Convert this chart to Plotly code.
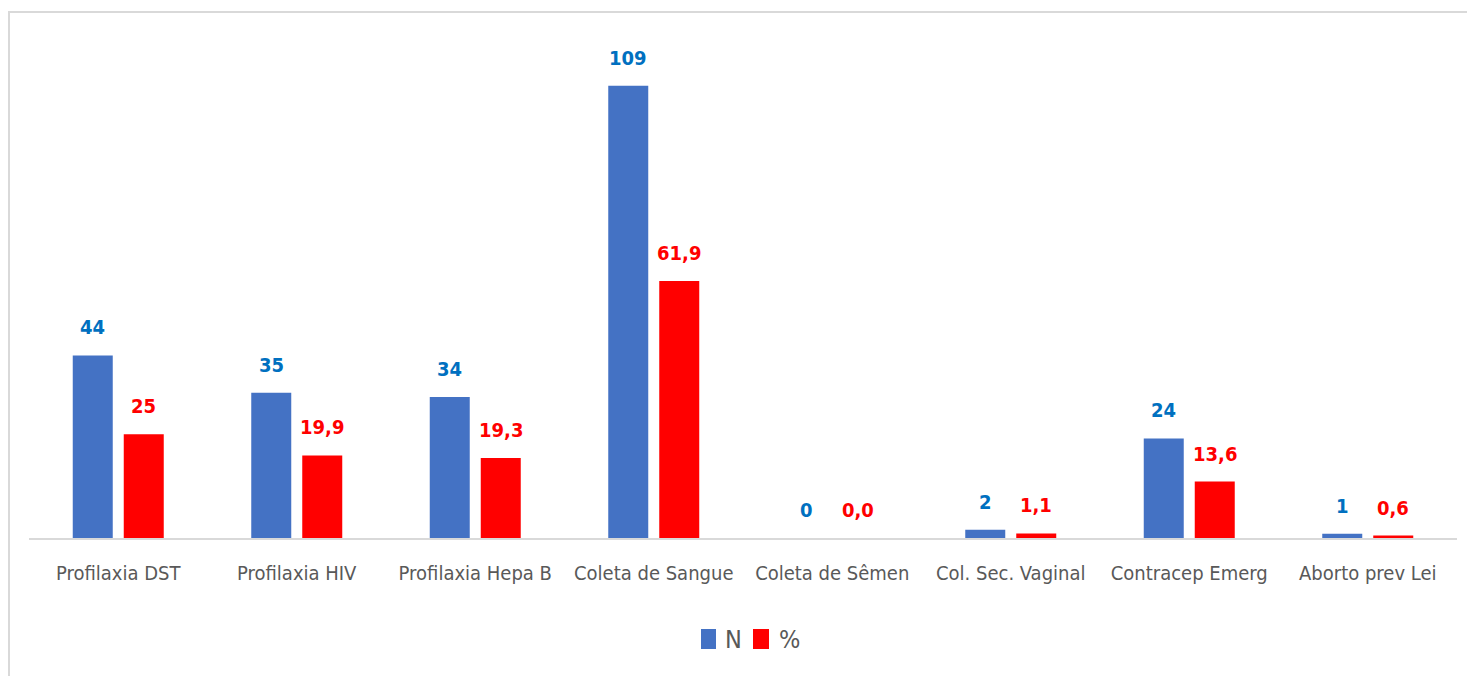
import plotly.graph_objects as go

# Procedures offered to victims: absolute count (N) and share of cases (%)
categorias = [
    "Profilaxia DST",
    "Profilaxia HIV",
    "Profilaxia Hepa B",
    "Coleta de Sangue",
    "Coleta de Sêmen",
    "Col. Sec. Vaginal",
    "Contracep Emerg",
    "Aborto prev Lei",
]
valores_n = [44, 35, 34, 109, 0, 2, 24, 1]
valores_pct = [25, 19.9, 19.3, 61.9, 0.0, 1.1, 13.6, 0.6]
casas_decimais_pct = [0, 1, 1, 1, 1, 1, 1, 1]

COR_N = "#4472C4"
COR_PCT = "#FF0000"
COR_ROTULO_N = "#0070C0"
COR_TEXTO = "#595959"
FONTE = "Liberation Sans Narrow, DejaVu Sans Condensed, Roboto, Arial, sans-serif"

W, H = 1467, 676
M_L, M_R, M_T, M_B = 29, 10, 40, 138
plot_w = W - M_L - M_R
plot_h = H - M_T - M_B


def px_x(px):
    return (px - M_L) / plot_w


def px_y(py):
    return (H - M_B - py) / plot_h


def fmt_br(v, casas):
    return f"{v:.{casas}f}".replace(".", ",")


fig = go.Figure()
fig.add_trace(go.Bar(x=categorias, y=valores_n, name="N",
                     marker=dict(color=COR_N, line=dict(width=0))))
fig.add_trace(go.Bar(x=categorias, y=valores_pct, name="%",
                     marker=dict(color=COR_PCT, line=dict(width=0))))

# value labels above each bar
desloc = 25.5
anots = []
for cat, n, p, d in zip(categorias, valores_n, valores_pct, casas_decimais_pct):
    anots.append(dict(x=cat, y=n, xref="x", yref="y", text=f"<b>{n}</b>",
                      showarrow=False, xshift=-desloc, yshift=28,
                      yanchor="middle",
                      font=dict(family=FONTE, size=20, color=COR_ROTULO_N)))
    anots.append(dict(x=cat, y=p, xref="x", yref="y", text=f"<b>{fmt_br(p, d)}</b>",
                      showarrow=False, xshift=desloc, yshift=28,
                      yanchor="middle",
                      font=dict(family=FONTE, size=20, color=COR_PCT)))

# legend drawn as swatches + text below the axis
legenda = [("N", COR_N, 701, 716, 723), ("%", COR_PCT, 753, 769, 777)]
shapes = []
for nome, cor, x0, x1, xt in legenda:
    shapes.append(dict(type="rect", xref="paper", yref="paper",
                       x0=px_x(x0), x1=px_x(x1), y0=px_y(649), y1=px_y(629),
                       fillcolor=cor, line=dict(width=0)))
    anots.append(dict(x=px_x(xt), y=px_y(639), xref="paper", yref="paper",
                      text=nome, showarrow=False, xanchor="left", yanchor="middle",
                      font=dict(family=FONTE, size=25, color=COR_TEXTO)))

# chart frame
shapes.append(dict(type="rect", xref="paper", yref="paper",
                   x0=px_x(9), x1=px_x(W + 20), y0=px_y(H + 20), y1=px_y(12),
                   line=dict(color="#D9D9D9", width=2), fillcolor="rgba(0,0,0,0)",
                   layer="below"))

fig.update_layout(
    width=W, height=H,
    margin=dict(l=M_L, r=M_R, t=M_T, b=M_B),
    paper_bgcolor="white", plot_bgcolor="white",
    barmode="group", bargap=0.4286, bargroupgap=0.2157,
    showlegend=False,
    annotations=anots, shapes=shapes,
    font=dict(family=FONTE, color=COR_TEXTO),
)
fig.update_xaxes(showline=True, linecolor="#D9D9D9", linewidth=2,
                 showgrid=False, ticks="", ticklabelstandoff=16,
                 tickfont=dict(family=FONTE, size=20, color=COR_TEXTO))
fig.update_yaxes(range=[0, 120], visible=False, showgrid=False, zeroline=False)

fig.write_html("out.html")
